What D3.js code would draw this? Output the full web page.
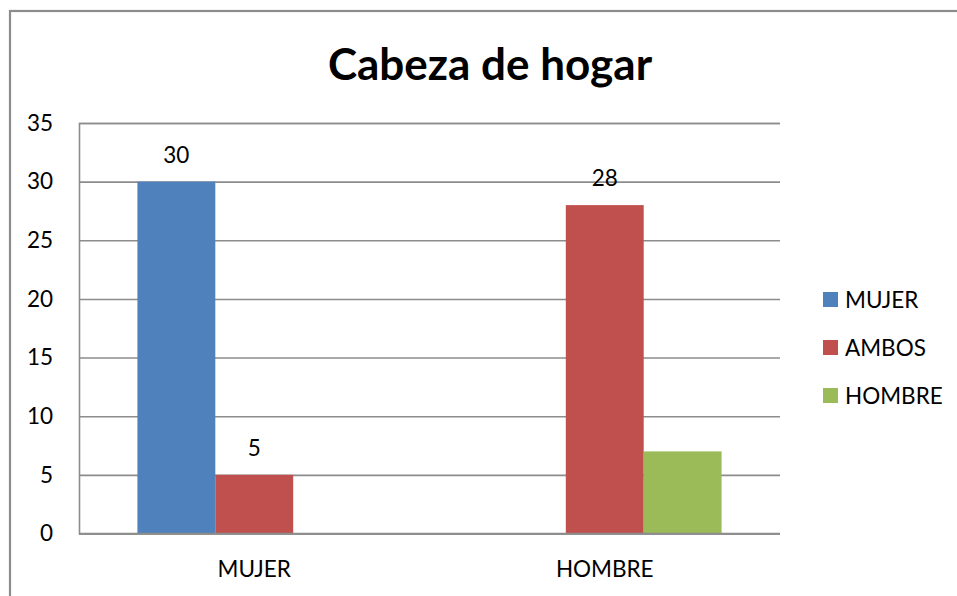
<!DOCTYPE html>
<html>
<head>
<meta charset="utf-8">
<script src="https://cdn.jsdelivr.net/npm/d3@7"></script>
<style>
    body { margin: 0; background: #fff; }
    svg { display: block; font-family: 'Lato', 'Open Sans', sans-serif; }
</style>
</head>
<body>
<svg width="957" height="596"></svg>
<script>
// chart data
var categories = ['MUJER', 'HOMBRE'];
var seriesNames = ['MUJER', 'AMBOS', 'HOMBRE'];
var mujerValues = [30, 0];
var ambosValues = [5, 28];
var hombreValues = [0, 7];
var showLabels = [true, true, false];
var yTicks = [0, 5, 10, 15, 20, 25, 30, 35];
var colors = ['#4F81BD', '#C0504D', '#9BBB59'];

var svg = d3.select('svg');
var padding = {t: 123, r: 177, b: 62, l: 79};
var svgWidth = +svg.attr('width');
var svgHeight = +svg.attr('height');
var fontSize = '22.5px';

var seriesValues = [mujerValues, ambosValues, hombreValues];

// outer chart border
svg.append('rect')
    .attr('x', 10)
    .attr('y', 11)
    .attr('width', 980)
    .attr('height', 620)
    .attr('fill', 'none')
    .attr('stroke', '#8c8c8c')
    .attr('stroke-width', 2.2);

// title
svg.append('text')
    .attr('x', 490)
    .attr('y', 80)
    .attr('text-anchor', 'middle')
    .style('font-size', '44px')
    .style('font-weight', 'bold')
    .text('Cabeza de hogar');

var xScale = d3.scaleBand()
    .domain(categories)
    .range([padding.l, svgWidth - padding.r])
    .paddingInner(0)
    .paddingOuter(0);
var xInner = d3.scaleBand()
    .domain(seriesNames)
    .range([0, xScale.bandwidth()])
    .paddingInner(0)
    .paddingOuter(0.75);
var yScale = d3.scaleLinear()
    .domain([0, 35])
    .range([svgHeight - padding.b - 0.5, padding.t]);

// gridlines
var yAxis = d3.axisLeft(yScale)
    .tickValues(yTicks)
    .tickSize(-(svgWidth - padding.r - padding.l))
    .tickPadding(26);
var yAxisG = svg.append('g')
    .attr('class', 'y axis')
    .attr('transform', 'translate(' + [padding.l, 0] + ')')
    .call(yAxis);
yAxisG.select('.domain').attr('stroke', '#8c8c8c').attr('stroke-width', 1.6);
yAxisG.selectAll('.tick line').attr('stroke', '#8c8c8c').attr('stroke-width', 1.6);
yAxisG.selectAll('.tick text')
    .style('font-size', fontSize)
    .style('font-family', "'Lato', 'Open Sans', sans-serif")
    .attr('fill', '#000');

// bars
var groups = svg.selectAll('.group')
    .data(categories)
    .enter()
    .append('g')
    .attr('class', 'group')
    .attr('transform', function(d) { return 'translate(' + [xScale(d), 0] + ')'; });

groups.selectAll('rect')
    .data(function(d, i) {
        return seriesNames.map(function(s, j) {
            return {series: s, idx: j, value: seriesValues[j][i]};
        });
    })
    .enter()
    .append('rect')
    .attr('x', function(d) { return xInner(d.series); })
    .attr('y', function(d) { return yScale(d.value); })
    .attr('width', xInner.bandwidth())
    .attr('height', function(d) { return yScale(0) - yScale(d.value); })
    .attr('fill', function(d) { return colors[d.idx]; });

// data labels
groups.selectAll('.label')
    .data(function(d, i) {
        return seriesNames.map(function(s, j) {
            return {series: s, idx: j, value: seriesValues[j][i]};
        }).filter(function(d) { return d.value > 0 && showLabels[d.idx]; });
    })
    .enter()
    .append('text')
    .attr('class', 'label')
    .attr('x', function(d) { return xInner(d.series) + xInner.bandwidth() / 2; })
    .attr('y', function(d) { return yScale(d.value) - 19; })
    .attr('text-anchor', 'middle')
    .style('font-size', fontSize)
    .text(function(d) { return d.value; });

// x axis line and labels
svg.append('line')
    .attr('x1', padding.l)
    .attr('x2', svgWidth - padding.r)
    .attr('y1', yScale(0))
    .attr('y2', yScale(0))
    .attr('stroke', '#8c8c8c')
    .attr('stroke-width', 1.6);
svg.selectAll('.xlabel')
    .data(categories)
    .enter()
    .append('text')
    .attr('class', 'xlabel')
    .attr('x', function(d) { return xScale(d) + xScale.bandwidth() / 2; })
    .attr('y', 577)
    .attr('text-anchor', 'middle')
    .style('font-size', fontSize)
    .text(function(d) { return d; });

// legend
var legendG = svg.append('g')
    .attr('transform', 'translate(' + [823, 292] + ')');
legendG.selectAll('rect')
    .data(seriesNames)
    .enter()
    .append('rect')
    .attr('y', function(d, i) { return i * 48; })
    .attr('width', 15)
    .attr('height', 15)
    .attr('fill', function(d, i) { return colors[i]; });
legendG.selectAll('text')
    .data(seriesNames)
    .enter()
    .append('text')
    .attr('x', 22)
    .attr('y', function(d, i) { return i * 48 + 15.5; })
    .style('font-size', fontSize)
    .text(function(d) { return d; });
</script>
</body>
</html>
